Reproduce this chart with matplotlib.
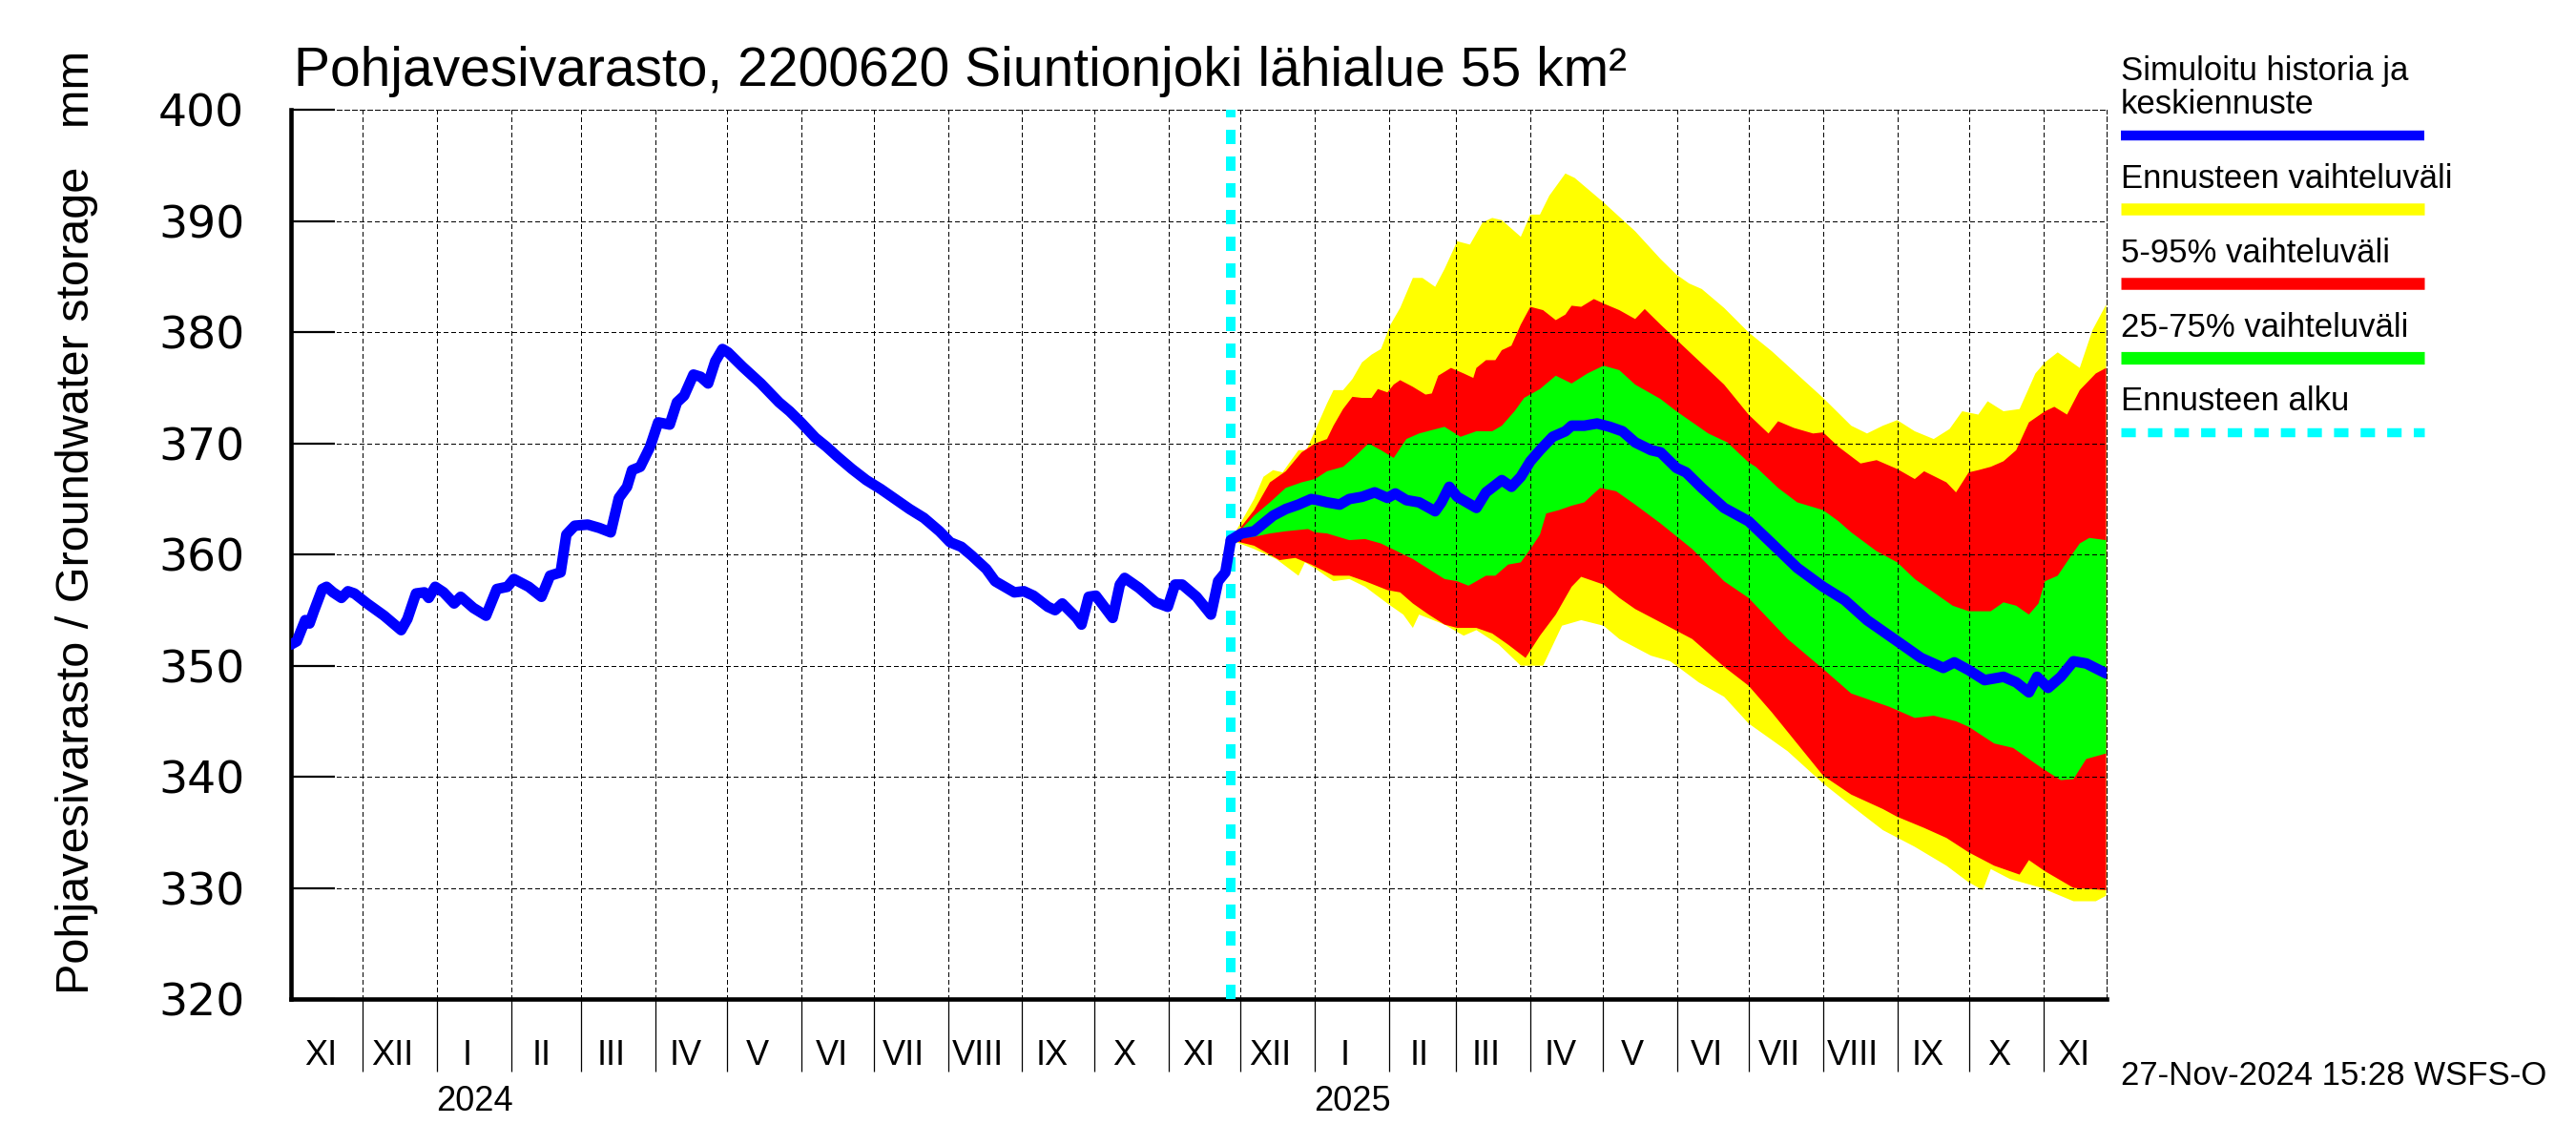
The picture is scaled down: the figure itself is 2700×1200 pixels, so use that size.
import numpy as np
import matplotlib
matplotlib.use("Agg")
import matplotlib.pyplot as plt
import matplotlib.dates as mdates
import matplotlib.transforms as mtransforms
from matplotlib.lines import Line2D

SANS = ["Liberation Sans", "DejaVu Sans"]
WIDE = "DejaVu Sans"

# ---------------- texts ----------------
title = "Pohjavesivarasto, 2200620 Siuntionjoki lähialue 55 km²"
ylabel = "Pohjavesivarasto / Groundwater storage   mm"
timestamp = "27-Nov-2024 15:28 WSFS-O"
legend_labels = [["Simuloitu historia ja", "keskiennuste"],
                 ["Ennusteen vaihteluväli"],
                 ["5-95% vaihteluväli"],
                 ["25-75% vaihteluväli"],
                 ["Ennusteen alku"]]
roman = ["I", "II", "III", "IV", "V", "VI", "VII", "VIII", "IX", "X", "XI", "XII"]
year_labels = ["2024", "2025"]
y_ticks = [320, 330, 340, 350, 360, 370, 380, 390, 400]

# ---------------- dates ----------------
x_start = "2023-11-01"
forecast_start = "2024-11-27"
x_end = "2025-11-27"

# ---------------- history (days from x_start) ----------------
hist_day = [0, 2.5, 6, 7.8, 9.6, 13.1, 14.9, 17.6, 21.1, 23.8, 26.5, 31.8, 38.9, 46,
            48.6, 52.2, 55.7, 57.5, 60.2, 63.7, 68.1, 70.8, 76.1, 81.4, 85.9, 90.3, 93,
            99.2, 104.5, 108.1, 112.5, 114.9, 118.4, 123.8, 128.6, 133.4, 136.8, 140.2,
            142.3, 145.7, 149.8, 153.2, 158, 161, 164, 167.9, 170.9, 174, 177, 180,
            182.3, 188.4, 196, 203.6, 208, 212.7, 218.8, 223.4, 228, 234, 240, 246, 252,
            258, 264, 270.5, 275, 279.6, 284, 290, 293.7, 301.7, 305.7, 309.7, 315.7,
            318.7, 321.7, 327.7, 329.7, 332.7, 335.7, 342.7, 345.7, 347.7, 353.7, 360.7,
            365.7, 368.7, 371.7, 377.7, 383.7, 386.7, 389.7, 392]
hist_val = [351.9, 352.2, 354.1, 353.8, 354.9, 356.9, 357.1, 356.6, 356.1, 356.7, 356.5,
            355.6, 354.5, 353.2, 354.2, 356.5, 356.6, 356.1, 357.1, 356.6, 355.6, 356.2,
            355.2, 354.5, 356.9, 357.1, 357.8, 357.1, 356.2, 358.1, 358.4, 361.8, 362.6,
            362.7, 362.4, 362.0, 365.1, 366.1, 367.6, 367.9, 369.7, 371.9, 371.7, 373.7,
            374.3, 376.2, 376.0, 375.4, 377.4, 378.5, 378.2, 376.9, 375.4, 373.7, 372.9,
            371.9, 370.5, 369.7, 368.8, 367.7, 366.7, 365.9, 365.0, 364.1, 363.3, 362.1,
            361.1, 360.7, 359.9, 358.7, 357.6, 356.6, 356.7, 356.3, 355.3, 355.0, 355.6,
            354.3, 353.7, 356.2, 356.3, 354.3, 357.3, 357.9, 357.0, 355.7, 355.3, 357.3,
            357.3, 356.2, 354.6, 357.6, 358.4, 361.3]

# ---------------- forecast (days from forecast_start) ----------------
med_day = [0, 4.4, 9.7, 13.6, 17.6, 22.9, 28.2, 33.5, 36.2, 40.1, 45.4, 49.4, 54.7, 60,
           65.3, 68.6, 73.2, 78.5, 85.2, 87.8, 91.1, 94.4, 98.4, 102.4, 106.4, 113, 117,
           120.9, 124.9, 128.9, 134.2, 139.5, 142.1, 147.4, 152.7, 158, 163.3, 168.6,
           175.2, 179.2, 185.8, 189.8, 196.4, 205.7, 215.9, 225.6, 236.2, 247, 256, 265.3,
           277.9, 287.8, 297.1, 301.7, 307.7, 314.3, 322.2, 327.5, 332.8, 336.2, 340.8,
           346.1, 351.4, 356.7, 365]
med_val = [361.3, 361.9, 362.1, 362.8, 363.5, 364.1, 364.5, 365, 364.9, 364.7, 364.5, 365,
           365.2, 365.6, 365.1, 365.5, 364.9, 364.7, 363.9, 364.7, 366.1, 365.2, 364.7,
           364.2, 365.6, 366.7, 366.1, 367, 368.4, 369.4, 370.6, 371.1, 371.6, 371.6,
           371.8, 371.5, 371.1, 370.1, 369.4, 369.2, 367.8, 367.4, 366, 364.2, 363, 361,
           358.8, 357.1, 355.9, 354.1, 352.2, 350.7, 349.8, 350.3, 349.6, 348.7, 349,
           348.5, 347.6, 349, 348, 349, 350.4, 350.2, 349.3]

yel_up_day = [0, 9.7, 13.6, 17.6, 21.6, 24.2, 28.2, 31.5, 34.8, 40.1, 42.8, 46.8, 50.7,
              54.7, 58.7, 62.6, 66.6, 70.6, 75.9, 79.9, 85.2, 89.1, 94.4, 99.7, 105, 109,
              113, 120.9, 124.9, 128.9, 132.8, 139.5, 143.4, 155.4, 168.6, 179.2, 185.8,
              191.1, 196.4, 205.7, 215.9, 225.6, 232.2, 247, 258.7, 265.3, 271.9, 277.9,
              285.2, 293.1, 299.7, 305, 311.7, 315.6, 322.2, 328.9, 335.5, 339.5, 344.8,
              354, 359.3, 365]
yel_up_val = [361.3, 365, 367, 367.6, 367.4, 368.2, 369.4, 369.4, 371, 373.6, 374.8,
              374.8, 375.8, 377.3, 378, 378.5, 380.7, 382.2, 384.9, 384.9, 384.1, 385.7,
              388.2, 387.9, 389.9, 390.3, 390.1, 388.6, 390.6, 390.6, 392.3, 394.3, 393.9,
              391.7, 389.1, 386.6, 385.2, 384.4, 383.9, 382.2, 380, 378.3, 377, 374.1,
              371.6, 370.9, 371.6, 372.1, 371.1, 370.4, 371.3, 372.9, 372.6, 373.8, 372.9,
              373.1, 376.3, 377.3, 378.2, 376.8, 380.2, 382.5]
yel_lo_day = [0, 9.7, 18.9, 28.2, 30.9, 34.8, 42.8, 49.4, 56, 65.3, 71.9, 75.9, 78.5,
              89.1, 97.1, 102.4, 111.7, 120.9, 130.2, 138.1, 146.1, 155.4, 162, 175.2,
              183.2, 185.8, 195.1, 205.7, 215.9, 232.2, 247, 258.7, 271.9, 285.2, 298.4,
              307.7, 313.6, 316.9, 324.9, 338.1, 351.4, 360.7, 365]
yel_lo_val = [361.3, 360.5, 359.6, 358.1, 359.3, 358.8, 357.6, 357.8, 357.1, 355.6,
              354.6, 353.4, 354.6, 353.7, 352.7, 353.2, 351.9, 350, 350, 353.6, 354.1,
              353.6, 352.4, 350.9, 350.4, 350, 348.5, 347.2, 344.8, 342.3, 339.4, 337.4,
              335.2, 333.7, 332, 330.5, 329.8, 331.7, 330.8, 330, 328.8, 328.8, 329.3]

red_up_day = [0, 9.7, 16.3, 22.9, 29.5, 35.1, 40.1, 42.8, 46.8, 50.7, 54.7, 58.7, 61.3,
              65.3, 67.9, 70.6, 75.9, 81.2, 83.8, 86.5, 91.8, 97.1, 101.1, 102.4, 106.4,
              110.3, 113, 117, 120.9, 124.9, 130.2, 135.5, 139.5, 142.1, 146.1, 151.4,
              155.4, 162, 168.6, 172.6, 179.2, 192.4, 205.7, 215.9, 224.2, 228.2, 234.8,
              242.8, 247, 253.4, 262.6, 269.3, 277.9, 285.2, 289.1, 298.4, 302.4, 307.7,
              311.7, 316.9, 322.2, 327.5, 332.8, 339.5, 343.4, 348.7, 354, 360.7, 365]
red_up_val = [361.3, 364, 366.5, 367.5, 369.2, 370, 370.4, 371.6, 373.1, 374.2, 374.1,
              374.1, 374.9, 374.6, 375.3, 375.7, 375.1, 374.4, 374.5, 376.1, 376.8, 376.3,
              375.9, 376.8, 377.5, 377.5, 378.4, 378.8, 380.7, 382.3, 382, 381.1, 381.6,
              382.4, 382.3, 383, 382.6, 382, 381.2, 382.1, 380.7, 378, 375.3, 372.6, 370.9,
              372, 371.4, 370.9, 371, 369.7, 368.2, 368.5, 367.7, 366.8, 367.5, 366.5,
              365.6, 367.4, 367.6, 367.9, 368.4, 369.4, 371.9, 372.9, 373.3, 372.6, 374.8,
              376.3, 376.8]
red_lo_day = [0, 9.7, 20.3, 26.9, 33.5, 42.8, 49.4, 56, 65.3, 70.6, 75.9, 82.5, 89.1,
              94.4, 102.4, 109, 115.6, 122.9, 128.9, 135.5, 142.1, 146.1, 155.4, 162,
              168.6, 179.2, 192.4, 205.7, 215.9, 225.6, 247, 258.7, 271.9, 277.9, 289.1,
              298.4, 307.7, 318.3, 328.9, 332.8, 339.5, 351.4, 365]
red_lo_val = [361.3, 360.8, 359.5, 359.7, 359.1, 358.1, 358.1, 357.6, 356.8, 356.6,
              355.6, 354.6, 353.7, 353.4, 353.4, 352.9, 351.9, 350.7, 352.7, 354.6, 357.1,
              358, 357.3, 356.1, 355.1, 353.9, 352.4, 349.9, 348.2, 345.8, 340.1, 338.4,
              337.1, 336.4, 335.4, 334.5, 333.2, 332, 331.2, 332.5, 331.5, 330, 329.8]

grn_up_day = [0, 9.7, 16.3, 22.9, 29.5, 35.1, 40.1, 46.8, 52.1, 57.4, 62.6, 67.9, 73.2,
              78.5, 89.1, 95.8, 102.4, 109, 113, 118.3, 122.3, 128.9, 135.5, 142.1, 148.7,
              155.4, 162, 168.6, 179.2, 185.8, 199.1, 207, 215.9, 218.9, 228.2, 236.2, 247,
              253.4, 258.7, 269.3, 277.9, 285.2, 294.4, 301, 307.7, 316.9, 322.2, 327.5,
              332.8, 336.8, 339.5, 344.8, 350.1, 354, 358, 365]
grn_up_val = [361.3, 363.5, 364.7, 366, 366.5, 366.8, 367.5, 367.9, 368.9, 370, 369.4,
              368.7, 370.4, 370.9, 371.5, 370.6, 371.1, 371.1, 371.6, 372.9, 374.1, 374.9,
              376.1, 375.4, 376.3, 377, 376.6, 375.3, 374, 372.9, 370.9, 370.1, 368.3,
              367.9, 366, 364.7, 364, 363, 362, 360.3, 359.3, 357.8, 356.4, 355.4, 354.9,
              354.9, 355.7, 355.4, 354.6, 355.6, 357.6, 358.1, 359.8, 361, 361.5, 361.3]
grn_lo_day = [0, 9.7, 16.3, 22.9, 32.2, 35.1, 40.1, 49.4, 56, 62.6, 69.3, 75.9, 82.5,
              89.1, 94.4, 99.1, 102.4, 106.4, 110.3, 115.6, 120.9, 124.9, 128.9, 131.5,
              136.8, 142.1, 147.4, 151.4, 154, 160.7, 168.6, 179.2, 192.4, 205.7, 215.9,
              232.2, 247, 258.7, 269.3, 274.6, 285.2, 293.1, 302.4, 307.7, 318.3, 326.2,
              338.1, 346.1, 351.4, 356.7, 365]
grn_lo_val = [361.3, 361.6, 361.9, 362.1, 362.3, 362, 361.9, 361.3, 361.4, 361, 360.3,
              359.6, 358.7, 357.8, 357.6, 357.2, 357.6, 358.1, 358.1, 359.1, 359.3, 360.5,
              361.8, 363.7, 364, 364.4, 364.7, 365.5, 366, 365.7, 364.5, 362.8, 360.5,
              357.6, 356.1, 352.4, 349.7, 347.5, 346.7, 346.3, 345.3, 345.5, 345, 344.5,
              343, 342.6, 340.8, 339.7, 339.8, 341.6, 342.1]

# ---------------- colours ----------------
C_BLUE, C_YEL, C_RED, C_GRN, C_CYAN = "#0000ff", "#ffff00", "#ff0000", "#00ff00", "#00ffff"

# ---------------- figure ----------------
fig = plt.figure(figsize=(27, 12), dpi=100)
ax = fig.add_axes([0.1129, 0.1275, 0.7047, 0.7763])

x0 = mdates.date2num(np.datetime64(x_start))
xf = mdates.date2num(np.datetime64(forecast_start))
x1 = mdates.date2num(np.datetime64(x_end))


def band(up_d, up_v, lo_d, lo_v, color):
    xs = np.concatenate([xf + np.asarray(up_d), (xf + np.asarray(lo_d))[::-1]])
    ys = np.concatenate([np.asarray(up_v), np.asarray(lo_v)[::-1]])
    ax.fill(xs, ys, color=color, lw=0, zorder=1)


band(yel_up_day, yel_up_val, yel_lo_day, yel_lo_val, C_YEL)
band(red_up_day, red_up_val, red_lo_day, red_lo_val, C_RED)
band(grn_up_day, grn_up_val, grn_lo_day, grn_lo_val, C_GRN)

ax.axvline(xf, color=C_CYAN, lw=7.2, linestyle=(0, (1.5, 1.3)),
           dash_capstyle="butt", zorder=4)
ax.plot(x0 + np.asarray(hist_day), hist_val, color=C_BLUE, lw=8,
        solid_joinstyle="round", solid_capstyle="round", zorder=5)
ax.plot(xf + np.asarray(med_day), med_val, color=C_BLUE, lw=8,
        solid_joinstyle="round", solid_capstyle="round", zorder=5)

ax.set_xlim(x0, x1)
ax.set_ylim(320, 400)

# month ticks
month_starts = np.arange(np.datetime64("2023-12"), np.datetime64("2025-12"),
                         dtype="datetime64[M]")
month_pos = mdates.date2num(month_starts.astype("datetime64[D]"))
jan_pos = mdates.date2num(np.array(["2024-01-01", "2025-01-01"], dtype="datetime64[D]"))
ax.set_xticks(month_pos)
ax.set_xticks(jan_pos, minor=True)
ax.set_xticklabels([])
ax.tick_params(axis="x", which="major", direction="out", length=55, width=0.9)
ax.tick_params(axis="x", which="minor", direction="out", length=55, width=3.3)

ax.set_yticks(y_ticks)
ax.set_yticklabels([str(v) for v in y_ticks])
ax.tick_params(axis="y", direction="in", length=33, width=1.6, pad=35,
               labelsize=34, labelfontfamily=WIDE)

ax.grid(True, which="major", color="black", linestyle=(0, (3.5, 2.8)), linewidth=0.9,
        antialiased=False)
ax.set_axisbelow(False)

for s in ["left", "bottom"]:
    ax.spines[s].set_linewidth(3.3)
for s in ["top", "right"]:
    ax.spines[s].set_linewidth(0.9)
    ax.spines[s].set_linestyle((0, (3.5, 2.8)))
    ax.spines[s].set_antialiased(False)

# month / year labels
trans = mtransforms.blended_transform_factory(ax.transData, fig.transFigure)
months_all = np.arange(np.datetime64("2023-11"), np.datetime64("2025-12"),
                       dtype="datetime64[M]")
for m in months_all:
    s = mdates.date2num(m.astype("datetime64[D]"))
    ax.text(s + 12.5, 0.0775, roman[int(m.astype(int)) % 12], transform=trans,
            ha="center", va="center", fontsize=26, family=SANS)
for yl in year_labels:
    s = mdates.date2num(np.datetime64(yl + "-01-01"))
    e = mdates.date2num(np.datetime64(yl + "-02-01"))
    ax.text((s + e) / 2, 0.0375, yl, transform=trans, ha="center", va="center",
            fontsize=26, family=SANS)

# title, y label, timestamp
fig.text(0.1140, 0.925, title, fontsize=41, family=SANS, ha="left", va="baseline")
fig.text(0.030, 0.5436, ylabel, rotation=90, fontsize=35, family=SANS,
         ha="center", va="center")
fig.text(0.8235, 0.0608, timestamp, fontsize=25, family=SANS, ha="left", va="center")

# legend
lx0, lx1 = 0.8233, 0.9411
text_base = [[0.930, 0.9008], [0.8358], [0.7708], [0.7058], [0.6417]]
bar_y = [0.8817, 0.8175, 0.7521, 0.6875, 0.6229]
bar_col = [C_BLUE, C_YEL, C_RED, C_GRN, C_CYAN]
bar_lw = [7.5, 9, 9, 9.5, 6.8]
for labels, ys, by, col, lw in zip(legend_labels, text_base, bar_y, bar_col, bar_lw):
    for lab, yy in zip(labels, ys):
        fig.text(lx0, yy, lab, fontsize=25, family=SANS, ha="left", va="baseline")
    if col == C_CYAN:
        ln = Line2D([lx0, lx1], [by, by], transform=fig.transFigure, color=col, lw=lw,
                    linestyle=(0, (1.6, 1.35)), dash_capstyle="butt")
    else:
        ln = Line2D([lx0, lx1], [by, by], transform=fig.transFigure, color=col, lw=lw,
                    solid_capstyle="butt")
    fig.add_artist(ln)

fig.savefig("out.png", dpi=100)
